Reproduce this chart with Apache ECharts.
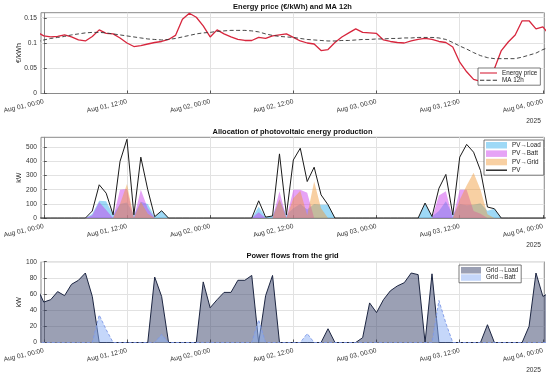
<!DOCTYPE html>
<html><head><meta charset="utf-8">
<script src="https://cdn.jsdelivr.net/npm/echarts@6/dist/echarts.min.js"></script>
<style>html,body{margin:0;padding:0;background:#fff}#c{width:550px;height:378px}</style>
</head><body><div id="c"></div>
<script>
// hourly samples, first one at Jul 31 23:00 (hour -1 relative to Aug 01 00:00)
const firstHour = -1;
const price = [0.122,0.114,0.112,0.113,0.116,0.112,0.106,0.104,0.113,0.126,0.119,0.118,0.110,0.100,0.093,0.095,0.098,0.101,0.103,0.107,0.115,0.147,0.159,0.151,0.134,
  0.112,0.126,0.118,0.112,0.107,0.105,0.105,0.111,0.109,0.114,0.116,0.118,0.111,0.104,0.100,0.098,0.085,0.087,0.101,0.112,0.120,0.128,0.121,0.120,
  0.119,0.106,0.103,0.101,0.100,0.104,0.107,0.109,0.107,0.103,0.101,0.092,0.062,0.043,0.028,0.024,0.030,0.049,0.085,0.102,0.116,0.144,0.144,0.128,0.132,0.115];
const ma12 = [0.102,0.106,0.109,0.111,0.113,0.116,0.118,0.120,0.121,0.121,0.120,0.118,0.116,0.114,0.112,0.110,0.108,0.107,0.106,0.107,0.109,0.112,0.115,0.118,0.120,
  0.121,0.123,0.124,0.125,0.125,0.125,0.124,0.122,0.118,0.115,0.113,0.112,0.111,0.109,0.107,0.106,0.105,0.104,0.104,0.105,0.105,0.106,0.107,0.107,
  0.108,0.108,0.109,0.109,0.110,0.110,0.111,0.111,0.111,0.110,0.107,0.101,0.094,0.088,0.081,0.075,0.071,0.069,0.069,0.069,0.069,0.072,0.076,0.080,0.087,0.092];
const pvTotal = [0,0,0,0,0,0,0,0, 50,235,176,23,400,556,23,430,200,10,52, 0,0,0,0,0,0,0,0,0,0,0,0,0,
  122,7,15,453,23,410,493,258,359,164,94, 0,0,0,0,0,0,0,0,0,0,0,0,0,
  106,11,210,308,23,430,520,465,335,78,66, 0,0,0,0,0,0,0,0];
const pvLoad = [0,0,0,0,0,0,0,0, 30,122,118,23,100,110,23,115,100,10,52, 0,0,0,0,0,0,0,0,0,0,0,0,0,
  80,7,15,130,23,70,100,60,100,94,94, 0,0,0,0,0,0,0,0,0,0,0,0,0,
  106,11,50,118,23,100,90,95,105,51,66, 0,0,0,0,0,0,0,0];
const pvBatt = [0,0,0,0,0,0,0,0, 20,113,58,0,200,205,0,200,70,0,0, 0,0,0,0,0,0,0,0,0,0,0,0,0,
  42,0,0,190,0,200,200,178,0,0,0, 0,0,0,0,0,0,0,0,0,0,0,0,0,
  0,0,160,190,0,200,200,50,30,0,0, 0,0,0,0,0,0,0,0];
const pvGrid = [0,0,0,0,0,0,0,0, 0,0,0,0,100,241,0,115,30,0,0, 0,0,0,0,0,0,0,0,0,0,0,0,0,
  0,0,0,133,0,140,193,20,259,70,0, 0,0,0,0,0,0,0,0,0,0,0,0,0,
  0,0,0,0,0,130,230,320,200,27,0, 0,0,0,0,0,0,0,0];
const gridLoad = [68,50,53,63,58,72,77,86,57,0,0,0,0,0,0,0,0,81,57,0,0,0,0,0,75,
  43,53,62,62,77,77,83,0,58,83,0,0,0,0,0,0,0,17,0,0,0,0,6,49,
  37,53,64,70,74,86,84,0,85,0,0,0,0,0,0,0,22,0,0,0,0,0,20,86,57,62];
const gridBatt = [0,0,0,0,0,0,0,0,0,34,16,0,0,0,0,0,0,0,10,0,0,0,0,0,0,
  0,0,0,0,0,0,0,28,0,0,0,0,0,0,11,0,0,0,0,0,0,0,0,0,
  0,0,0,0,0,0,0,0,0,52,24,0,0,0,0,0,0,0,0,0,0,0,0,0,0,0];
const xTicks = [0,12,24,36,48,60,72];
const priceTicks = [0,0.05,0.1,0.15];
const pvTicks = [0,100,200,300,400,500];
const gridTicks = [0,20,40,60,80,100];
const yearLabel = '2025';
const monthLabel = 'Aug';

const pairs = arr => arr.map((v, i) => [firstHour + i, v]);
const pad2 = n => String(n).padStart(2, '0');
const fmtTime = v => monthLabel + ' ' + pad2(1 + Math.floor(v / 24)) + ', ' + pad2(((v % 24) + 24) % 24) + ':00';

const FONT = 'Liberation Sans, Arial, Helvetica, sans-serif';
const frame = '#8a8a8a';
const gridTops = [12.7, 137.3, 261.7];
const plotH = 80.8;

const grids = gridTops.map(t => ({left: 41, right: 5.7, top: t, height: plotH, show: true,
  borderColor: frame, borderWidth: 1, backgroundColor: '#fff'}));

const xAxes = [0,1,2].map(k => ({
  type: 'value', gridIndex: k, min: -0.4, max: 72.2,
  axisLine: {show: true, lineStyle: {color: frame, width: 1}},
  axisTick: {show: true, inside: true, length: 3, customValues: xTicks, lineStyle: {color: '#555'}},
  axisLabel: {customValues: xTicks, rotate: 13, fontSize: 6.6, color: '#333', margin: 8, fontFamily: FONT, formatter: fmtTime},
  splitLine: {show: true, lineStyle: {color: '#e2e2e2', width: 1}}
}));

function yAx(k, max, ticks, name) {
  return {
    type: 'value', gridIndex: k, min: 0, max: max,
    name: name, nameLocation: 'middle', nameRotate: 90, nameGap: 18, nameMoveOverlap: false,
    nameTextStyle: {fontSize: 7, color: '#222', fontFamily: FONT},
    axisLine: {show: true, lineStyle: {color: frame, width: 1}},
    axisTick: {show: true, inside: true, length: 3, customValues: ticks, lineStyle: {color: '#555'}},
    axisLabel: {customValues: ticks, fontSize: 6.6, color: '#333', margin: 4, fontFamily: FONT},
    splitLine: {show: true, lineStyle: {color: '#e2e2e2', width: 1}}
  };
}

const C = {
  price: '#d7263d', ma: '#333333', pv: '#1a1a1a',
  load: 'rgba(40,170,235,0.45)', batt: 'rgba(200,50,235,0.45)', grid: 'rgba(240,150,50,0.45)',
  gLoadFill: 'rgba(55,65,105,0.5)', gLoadLine: '#1c2541',
  gBattFill: 'rgba(140,175,245,0.5)', gBattLine: '#7f98e6'
};
const solidIcon = 'path://M0,0H20V1.3H0Z';
const dashIcon = 'path://M0,0H5V1H0Z M7.5,0H12.5V1H7.5Z M15,0H20V1H15Z';

function area(name, xi, data, fill, extraLine) {
  return {
    name: name, type: 'line', xAxisIndex: xi, yAxisIndex: xi, data: pairs(data), symbol: 'none',
    color: fill, lineStyle: extraLine || {width: 0}, areaStyle: {color: fill, opacity: 1}, z: 2
  };
}

const legendBase = {orient: 'vertical', selectedMode: false, borderColor: '#444', borderWidth: 0.7,
  backgroundColor: '#fff', itemStyle: {borderWidth: 0},
  textStyle: {fontSize: 6.3, color: '#222', fontFamily: FONT}};

const option = {
  animation: false,
  grid: grids,
  xAxis: xAxes,
  yAxis: [yAx(0, 0.16, priceTicks, '€/kWh'), yAx(1, 570, pvTicks, 'kW'), yAx(2, 100, gridTicks, 'kW')],
  legend: [
    Object.assign({}, legendBase, {left: 478, top: 68, padding: [2, 3, 2, 2], itemWidth: 17, itemHeight: 6.5, itemGap: 1.2,
      data: [{name: 'Energy price', icon: solidIcon}, {name: 'MA 12h', icon: dashIcon}]}),
    Object.assign({}, legendBase, {left: 484, top: 140, padding: [2, 3, 2, 2], itemWidth: 21, itemHeight: 6.5, itemGap: 1.9,
      data: [{name: 'PV→Load', icon: 'rect', itemStyle: {color: C.load}},
             {name: 'PV→Batt', icon: 'rect', itemStyle: {color: C.batt}},
             {name: 'PV→Grid', icon: 'rect', itemStyle: {color: C.grid}},
             {name: 'PV', icon: solidIcon}]}),
    Object.assign({}, legendBase, {left: 459, top: 265, padding: [2, 3, 2, 2], itemWidth: 20, itemHeight: 6.5, itemGap: 0.8,
      data: [{name: 'Grid→Load', icon: 'rect', itemStyle: {color: C.gLoadFill}},
             {name: 'Grid→Batt', icon: 'rect', itemStyle: {color: C.gBattFill}}]})
  ],
  series: [
    {name: 'Energy price', type: 'line', xAxisIndex: 0, yAxisIndex: 0, data: pairs(price), symbol: 'none',
      color: C.price, lineStyle: {width: 1.3}, z: 3},
    {name: 'MA 12h', type: 'line', xAxisIndex: 0, yAxisIndex: 0, data: pairs(ma12), symbol: 'none',
      color: C.ma, lineStyle: {width: 0.9, type: [4, 2.5]}, z: 4},
    area('PV→Load', 1, pvLoad, C.load),
    area('PV→Batt', 1, pvBatt, C.batt),
    area('PV→Grid', 1, pvGrid, C.grid),
    {name: 'PV', type: 'line', xAxisIndex: 1, yAxisIndex: 1, data: pairs(pvTotal), symbol: 'none',
      color: C.pv, lineStyle: {width: 1}, z: 3},
    area('Grid→Load', 2, gridLoad, C.gLoadFill, {width: 1, color: C.gLoadLine}),
    Object.assign(area('Grid→Batt', 2, gridBatt, C.gBattFill, {width: 0.9, color: C.gBattLine, type: [3, 2]}), {z: 3})
  ],
  graphic: [
    {type: 'text', x: 292.5, y: 6.5, style: {text: 'Energy price (€/kWh) and MA 12h', font: 'bold 7.5px ' + FONT, fill: '#111', textAlign: 'center', textVerticalAlign: 'middle'}},
    {type: 'text', x: 292.5, y: 131.5, style: {text: 'Allocation of photovoltaic energy production', font: 'bold 7.5px ' + FONT, fill: '#111', textAlign: 'center', textVerticalAlign: 'middle'}},
    {type: 'text', x: 292.5, y: 256.3, style: {text: 'Power flows from the grid', font: 'bold 7.5px ' + FONT, fill: '#111', textAlign: 'center', textVerticalAlign: 'middle'}},
    {type: 'text', x: 533.5, y: 120.7, style: {text: yearLabel, font: '6.6px ' + FONT, fill: '#333', textAlign: 'center', textVerticalAlign: 'middle'}},
    {type: 'text', x: 533.5, y: 245.5, style: {text: yearLabel, font: '6.6px ' + FONT, fill: '#333', textAlign: 'center', textVerticalAlign: 'middle'}},
    {type: 'text', x: 533.5, y: 370.5, style: {text: yearLabel, font: '6.6px ' + FONT, fill: '#333', textAlign: 'center', textVerticalAlign: 'middle'}}
  ]
};
const chart = echarts.init(document.getElementById('c'), null, {renderer: 'canvas'});
chart.setOption(option);
</script></body></html>
